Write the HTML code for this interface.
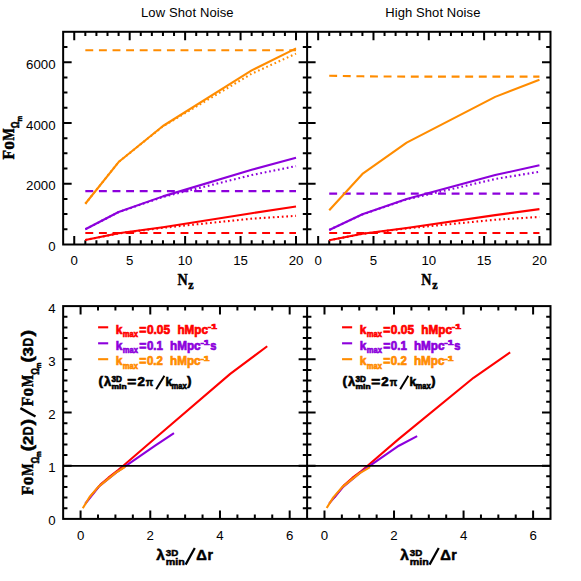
<!DOCTYPE html>
<html><head><meta charset="utf-8"><title>FoM</title>
<style>html,body{margin:0;padding:0;background:#fff;}svg{display:block;}</style>
</head><body>
<svg width="581" height="581" viewBox="0 0 581 581">
<rect width="581" height="581" fill="#fff"/>
<g stroke="#000" stroke-width="2" fill="none" stroke-linecap="butt">
<path d="M74.24 244.5 v-8.5 M74.24 31.8 v8.5"/>
<path d="M85.33 244.5 v-4.3 M85.33 31.8 v4.3"/>
<path d="M96.42 244.5 v-4.3 M96.42 31.8 v4.3"/>
<path d="M107.50 244.5 v-4.3 M107.50 31.8 v4.3"/>
<path d="M118.59 244.5 v-4.3 M118.59 31.8 v4.3"/>
<path d="M129.68 244.5 v-8.5 M129.68 31.8 v8.5"/>
<path d="M140.77 244.5 v-4.3 M140.77 31.8 v4.3"/>
<path d="M151.86 244.5 v-4.3 M151.86 31.8 v4.3"/>
<path d="M162.95 244.5 v-4.3 M162.95 31.8 v4.3"/>
<path d="M174.04 244.5 v-4.3 M174.04 31.8 v4.3"/>
<path d="M185.12 244.5 v-8.5 M185.12 31.8 v8.5"/>
<path d="M196.21 244.5 v-4.3 M196.21 31.8 v4.3"/>
<path d="M207.30 244.5 v-4.3 M207.30 31.8 v4.3"/>
<path d="M218.39 244.5 v-4.3 M218.39 31.8 v4.3"/>
<path d="M229.48 244.5 v-4.3 M229.48 31.8 v4.3"/>
<path d="M240.57 244.5 v-8.5 M240.57 31.8 v8.5"/>
<path d="M251.66 244.5 v-4.3 M251.66 31.8 v4.3"/>
<path d="M262.75 244.5 v-4.3 M262.75 31.8 v4.3"/>
<path d="M273.83 244.5 v-4.3 M273.83 31.8 v4.3"/>
<path d="M284.92 244.5 v-4.3 M284.92 31.8 v4.3"/>
<path d="M296.01 244.5 v-8.5 M296.01 31.8 v8.5"/>
<path d="M63.15 229.31 h4.3 M307.1 229.31 h-4.3"/>
<path d="M63.15 214.11 h4.3 M307.1 214.11 h-4.3"/>
<path d="M63.15 198.92 h4.3 M307.1 198.92 h-4.3"/>
<path d="M63.15 183.73 h8.5 M307.1 183.73 h-8.5"/>
<path d="M63.15 168.54 h4.3 M307.1 168.54 h-4.3"/>
<path d="M63.15 153.34 h4.3 M307.1 153.34 h-4.3"/>
<path d="M63.15 138.15 h4.3 M307.1 138.15 h-4.3"/>
<path d="M63.15 122.96 h8.5 M307.1 122.96 h-8.5"/>
<path d="M63.15 107.76 h4.3 M307.1 107.76 h-4.3"/>
<path d="M63.15 92.57 h4.3 M307.1 92.57 h-4.3"/>
<path d="M63.15 77.38 h4.3 M307.1 77.38 h-4.3"/>
<path d="M63.15 62.19 h8.5 M307.1 62.19 h-8.5"/>
<path d="M63.15 46.99 h4.3 M307.1 46.99 h-4.3"/>
<path d="M318.16 244.5 v-8.5 M318.16 31.8 v8.5"/>
<path d="M329.23 244.5 v-4.3 M329.23 31.8 v4.3"/>
<path d="M340.29 244.5 v-4.3 M340.29 31.8 v4.3"/>
<path d="M351.35 244.5 v-4.3 M351.35 31.8 v4.3"/>
<path d="M362.42 244.5 v-4.3 M362.42 31.8 v4.3"/>
<path d="M373.48 244.5 v-8.5 M373.48 31.8 v8.5"/>
<path d="M384.55 244.5 v-4.3 M384.55 31.8 v4.3"/>
<path d="M395.61 244.5 v-4.3 M395.61 31.8 v4.3"/>
<path d="M406.67 244.5 v-4.3 M406.67 31.8 v4.3"/>
<path d="M417.74 244.5 v-4.3 M417.74 31.8 v4.3"/>
<path d="M428.80 244.5 v-8.5 M428.80 31.8 v8.5"/>
<path d="M439.86 244.5 v-4.3 M439.86 31.8 v4.3"/>
<path d="M450.93 244.5 v-4.3 M450.93 31.8 v4.3"/>
<path d="M461.99 244.5 v-4.3 M461.99 31.8 v4.3"/>
<path d="M473.05 244.5 v-4.3 M473.05 31.8 v4.3"/>
<path d="M484.12 244.5 v-8.5 M484.12 31.8 v8.5"/>
<path d="M495.18 244.5 v-4.3 M495.18 31.8 v4.3"/>
<path d="M506.25 244.5 v-4.3 M506.25 31.8 v4.3"/>
<path d="M517.31 244.5 v-4.3 M517.31 31.8 v4.3"/>
<path d="M528.37 244.5 v-4.3 M528.37 31.8 v4.3"/>
<path d="M539.44 244.5 v-8.5 M539.44 31.8 v8.5"/>
<path d="M307.1 229.31 h4.3 M550.5 229.31 h-4.3"/>
<path d="M307.1 214.11 h4.3 M550.5 214.11 h-4.3"/>
<path d="M307.1 198.92 h4.3 M550.5 198.92 h-4.3"/>
<path d="M307.1 183.73 h8.5 M550.5 183.73 h-8.5"/>
<path d="M307.1 168.54 h4.3 M550.5 168.54 h-4.3"/>
<path d="M307.1 153.34 h4.3 M550.5 153.34 h-4.3"/>
<path d="M307.1 138.15 h4.3 M550.5 138.15 h-4.3"/>
<path d="M307.1 122.96 h8.5 M550.5 122.96 h-8.5"/>
<path d="M307.1 107.76 h4.3 M550.5 107.76 h-4.3"/>
<path d="M307.1 92.57 h4.3 M550.5 92.57 h-4.3"/>
<path d="M307.1 77.38 h4.3 M550.5 77.38 h-4.3"/>
<path d="M307.1 62.19 h8.5 M550.5 62.19 h-8.5"/>
<path d="M307.1 46.99 h4.3 M550.5 46.99 h-4.3"/>
<path d="M80.58 518.9 v-8.5 M80.58 306.1 v8.5"/>
<path d="M98.00 518.9 v-4.3 M98.00 306.1 v4.3"/>
<path d="M115.42 518.9 v-4.3 M115.42 306.1 v4.3"/>
<path d="M132.85 518.9 v-4.3 M132.85 306.1 v4.3"/>
<path d="M150.28 518.9 v-8.5 M150.28 306.1 v8.5"/>
<path d="M167.70 518.9 v-4.3 M167.70 306.1 v4.3"/>
<path d="M185.12 518.9 v-4.3 M185.12 306.1 v4.3"/>
<path d="M202.55 518.9 v-4.3 M202.55 306.1 v4.3"/>
<path d="M219.98 518.9 v-8.5 M219.98 306.1 v8.5"/>
<path d="M237.40 518.9 v-4.3 M237.40 306.1 v4.3"/>
<path d="M254.83 518.9 v-4.3 M254.83 306.1 v4.3"/>
<path d="M272.25 518.9 v-4.3 M272.25 306.1 v4.3"/>
<path d="M289.68 518.9 v-8.5 M289.68 306.1 v8.5"/>
<path d="M63.15 508.26 h4.3 M307.1 508.26 h-4.3"/>
<path d="M63.15 497.62 h4.3 M307.1 497.62 h-4.3"/>
<path d="M63.15 486.98 h4.3 M307.1 486.98 h-4.3"/>
<path d="M63.15 476.34 h4.3 M307.1 476.34 h-4.3"/>
<path d="M63.15 465.70 h8.5 M307.1 465.70 h-8.5"/>
<path d="M63.15 455.06 h4.3 M307.1 455.06 h-4.3"/>
<path d="M63.15 444.42 h4.3 M307.1 444.42 h-4.3"/>
<path d="M63.15 433.78 h4.3 M307.1 433.78 h-4.3"/>
<path d="M63.15 423.14 h4.3 M307.1 423.14 h-4.3"/>
<path d="M63.15 412.50 h8.5 M307.1 412.50 h-8.5"/>
<path d="M63.15 401.86 h4.3 M307.1 401.86 h-4.3"/>
<path d="M63.15 391.22 h4.3 M307.1 391.22 h-4.3"/>
<path d="M63.15 380.58 h4.3 M307.1 380.58 h-4.3"/>
<path d="M63.15 369.94 h4.3 M307.1 369.94 h-4.3"/>
<path d="M63.15 359.30 h8.5 M307.1 359.30 h-8.5"/>
<path d="M63.15 348.66 h4.3 M307.1 348.66 h-4.3"/>
<path d="M63.15 338.02 h4.3 M307.1 338.02 h-4.3"/>
<path d="M63.15 327.38 h4.3 M307.1 327.38 h-4.3"/>
<path d="M63.15 316.74 h4.3 M307.1 316.74 h-4.3"/>
<path d="M324.49 518.9 v-8.5 M324.49 306.1 v8.5"/>
<path d="M341.87 518.9 v-4.3 M341.87 306.1 v4.3"/>
<path d="M359.26 518.9 v-4.3 M359.26 306.1 v4.3"/>
<path d="M376.64 518.9 v-4.3 M376.64 306.1 v4.3"/>
<path d="M394.03 518.9 v-8.5 M394.03 306.1 v8.5"/>
<path d="M411.41 518.9 v-4.3 M411.41 306.1 v4.3"/>
<path d="M428.80 518.9 v-4.3 M428.80 306.1 v4.3"/>
<path d="M446.19 518.9 v-4.3 M446.19 306.1 v4.3"/>
<path d="M463.57 518.9 v-8.5 M463.57 306.1 v8.5"/>
<path d="M480.96 518.9 v-4.3 M480.96 306.1 v4.3"/>
<path d="M498.34 518.9 v-4.3 M498.34 306.1 v4.3"/>
<path d="M515.73 518.9 v-4.3 M515.73 306.1 v4.3"/>
<path d="M533.11 518.9 v-8.5 M533.11 306.1 v8.5"/>
<path d="M307.1 508.26 h4.3 M550.5 508.26 h-4.3"/>
<path d="M307.1 497.62 h4.3 M550.5 497.62 h-4.3"/>
<path d="M307.1 486.98 h4.3 M550.5 486.98 h-4.3"/>
<path d="M307.1 476.34 h4.3 M550.5 476.34 h-4.3"/>
<path d="M307.1 465.70 h8.5 M550.5 465.70 h-8.5"/>
<path d="M307.1 455.06 h4.3 M550.5 455.06 h-4.3"/>
<path d="M307.1 444.42 h4.3 M550.5 444.42 h-4.3"/>
<path d="M307.1 433.78 h4.3 M550.5 433.78 h-4.3"/>
<path d="M307.1 423.14 h4.3 M550.5 423.14 h-4.3"/>
<path d="M307.1 412.50 h8.5 M550.5 412.50 h-8.5"/>
<path d="M307.1 401.86 h4.3 M550.5 401.86 h-4.3"/>
<path d="M307.1 391.22 h4.3 M550.5 391.22 h-4.3"/>
<path d="M307.1 380.58 h4.3 M550.5 380.58 h-4.3"/>
<path d="M307.1 369.94 h4.3 M550.5 369.94 h-4.3"/>
<path d="M307.1 359.30 h8.5 M550.5 359.30 h-8.5"/>
<path d="M307.1 348.66 h4.3 M550.5 348.66 h-4.3"/>
<path d="M307.1 338.02 h4.3 M550.5 338.02 h-4.3"/>
<path d="M307.1 327.38 h4.3 M550.5 327.38 h-4.3"/>
<path d="M307.1 316.74 h4.3 M550.5 316.74 h-4.3"/>
<rect x="63.15" y="31.8" width="487.35" height="212.70"/>
<path d="M307.1 31.8 V244.5"/>
<rect x="63.15" y="306.1" width="487.35" height="212.80"/>
<path d="M307.1 306.1 V518.9"/>
</g>
<g fill="none" stroke-width="2.1" stroke-linejoin="round">
<polyline points="85.33,240.00 118.59,233.29 162.95,227.21 251.66,213.20 296.01,206.43" stroke="#ff0000"/>
<polyline points="85.33,240.00 118.59,233.41 162.95,227.79 251.66,218.67 296.01,215.85" stroke="#ff0000" stroke-dasharray="1.7 2.8"/>
<polyline points="85.33,233.07 118.59,233.07 162.95,233.07 251.66,233.07 296.01,233.07" stroke="#ff0000" stroke-dasharray="7.9 5.7"/>
<polyline points="85.33,229.28 118.59,211.99 162.95,196.37 251.66,169.75 296.01,157.81" stroke="#8c00dc"/>
<polyline points="85.33,229.28 118.59,212.14 162.95,196.95 251.66,175.07 296.01,166.10" stroke="#8c00dc" stroke-dasharray="1.7 2.8"/>
<polyline points="85.33,191.14 118.59,191.14 162.95,191.14 251.66,191.14 296.01,191.14" stroke="#8c00dc" stroke-dasharray="7.9 5.7"/>
<polyline points="85.33,203.75 118.59,162.03 162.95,126.00 251.66,70.42 296.01,48.42" stroke="#ff8c00"/>
<polyline points="85.33,203.75 118.59,162.03 162.95,126.30 251.66,73.73 296.01,53.62" stroke="#ff8c00" stroke-dasharray="1.7 2.8"/>
<polyline points="85.33,50.21 118.59,50.21 162.95,50.21 251.66,50.21 296.01,50.21" stroke="#ff8c00" stroke-dasharray="7.9 5.7"/>
<polyline points="329.23,240.25 362.42,233.74 406.67,227.94 495.18,215.15 539.44,209.10" stroke="#ff0000"/>
<polyline points="329.23,240.25 362.42,233.87 406.67,228.40 495.18,219.74 539.44,216.94" stroke="#ff0000" stroke-dasharray="1.7 2.8"/>
<polyline points="329.23,233.07 362.42,233.07 406.67,233.07 495.18,233.07 539.44,233.07" stroke="#ff0000" stroke-dasharray="7.9 5.7"/>
<polyline points="329.23,229.95 362.42,214.27 406.67,199.01 495.18,175.07 539.44,165.19" stroke="#8c00dc"/>
<polyline points="329.23,229.95 362.42,214.42 406.67,199.38 495.18,179.02 539.44,171.70" stroke="#8c00dc" stroke-dasharray="1.7 2.8"/>
<polyline points="329.23,193.63 362.42,193.63 406.67,193.63 495.18,193.63 539.44,193.63" stroke="#8c00dc" stroke-dasharray="7.9 5.7"/>
<polyline points="329.23,210.22 362.42,173.94 406.67,142.59 495.18,96.86 539.44,79.84" stroke="#ff8c00"/>
<polyline points="329.23,75.74 362.42,76.32 406.67,76.62 495.18,76.62 539.44,76.62" stroke="#ff8c00" stroke-dasharray="7.9 5.7"/>
</g>
<g fill="none" stroke-width="2.1" stroke-linejoin="round">
<polyline points="89.91,497.09 100.44,484.59 108.46,477.67 117.86,470.22 123.55,465.43 155.15,438.30 230.22,373.88 267.23,346.27" stroke="#ff0000"/>
<polyline points="85.24,503.74 99.25,486.18 117.86,471.29 155.15,445.59 173.97,433.04" stroke="#8c00dc"/>
<polyline points="82.79,508.26 89.43,497.25 98.28,486.82 115.98,472.62 125.18,466.76" stroke="#ff8c00"/>
<polyline points="333.80,498.15 344.31,484.96 352.30,477.94 361.69,470.75 367.60,465.70 398.90,438.83 473.55,377.81 510.17,352.33" stroke="#ff0000"/>
<polyline points="329.15,503.68 343.12,486.82 361.69,471.45 398.90,445.70 417.15,436.07" stroke="#8c00dc"/>
<polyline points="326.69,507.99 333.32,497.35 342.15,487.14 359.81,473.15 370.04,467.19" stroke="#ff8c00"/>
</g>
<path d="M63.15 465.9 H550.5" stroke="#000" stroke-width="1.9" fill="none"/>
<g font-family="'Liberation Sans', sans-serif" font-size="13.6" fill="#000">
<text x="70.55" y="265.10" textLength="7.37" lengthAdjust="spacingAndGlyphs">0</text>
<text x="125.99" y="265.10" textLength="7.37" lengthAdjust="spacingAndGlyphs">5</text>
<text x="177.75" y="265.10" textLength="14.75" lengthAdjust="spacingAndGlyphs">10</text>
<text x="233.19" y="265.10" textLength="14.75" lengthAdjust="spacingAndGlyphs">15</text>
<text x="288.64" y="265.10" textLength="14.75" lengthAdjust="spacingAndGlyphs">20</text>
<text x="76.89" y="539.50" textLength="7.37" lengthAdjust="spacingAndGlyphs">0</text>
<text x="146.59" y="539.50" textLength="7.37" lengthAdjust="spacingAndGlyphs">2</text>
<text x="216.29" y="539.50" textLength="7.37" lengthAdjust="spacingAndGlyphs">4</text>
<text x="285.99" y="539.50" textLength="7.37" lengthAdjust="spacingAndGlyphs">6</text>
<text x="314.48" y="265.10" textLength="7.37" lengthAdjust="spacingAndGlyphs">0</text>
<text x="369.79" y="265.10" textLength="7.37" lengthAdjust="spacingAndGlyphs">5</text>
<text x="421.43" y="265.10" textLength="14.75" lengthAdjust="spacingAndGlyphs">10</text>
<text x="476.74" y="265.10" textLength="14.75" lengthAdjust="spacingAndGlyphs">15</text>
<text x="532.06" y="265.10" textLength="14.75" lengthAdjust="spacingAndGlyphs">20</text>
<text x="320.80" y="539.50" textLength="7.37" lengthAdjust="spacingAndGlyphs">0</text>
<text x="390.34" y="539.50" textLength="7.37" lengthAdjust="spacingAndGlyphs">2</text>
<text x="459.88" y="539.50" textLength="7.37" lengthAdjust="spacingAndGlyphs">4</text>
<text x="529.43" y="539.50" textLength="7.37" lengthAdjust="spacingAndGlyphs">6</text>
<text x="48.23" y="251.10" textLength="7.37" lengthAdjust="spacingAndGlyphs">0</text>
<text x="26.10" y="190.33" textLength="29.50" lengthAdjust="spacingAndGlyphs">2000</text>
<text x="26.10" y="129.56" textLength="29.50" lengthAdjust="spacingAndGlyphs">4000</text>
<text x="26.10" y="68.79" textLength="29.50" lengthAdjust="spacingAndGlyphs">6000</text>
<text x="48.23" y="525.30" textLength="7.37" lengthAdjust="spacingAndGlyphs">0</text>
<text x="48.23" y="472.10" textLength="7.37" lengthAdjust="spacingAndGlyphs">1</text>
<text x="48.23" y="418.90" textLength="7.37" lengthAdjust="spacingAndGlyphs">2</text>
<text x="48.23" y="365.70" textLength="7.37" lengthAdjust="spacingAndGlyphs">3</text>
<text x="48.23" y="312.50" textLength="7.37" lengthAdjust="spacingAndGlyphs">4</text>
</g>
<g font-family="'Liberation Sans', sans-serif" font-size="13" fill="#000">
<text x="141" y="16.5" textLength="92.6">Low Shot Noise</text>
<text x="385.2" y="16.5" textLength="95.2">High Shot Noise</text>
</g>
<text x="177.40" y="284.6" font-family="'Liberation Serif', serif" font-weight="bold" stroke="#000" stroke-width="0.5" font-size="17.5" textLength="10.2" lengthAdjust="spacingAndGlyphs">N</text>
<text x="188.20" y="289" font-family="'Liberation Serif', serif" font-weight="bold" stroke="#000" stroke-width="0.5" font-size="12">z</text>
<text x="421.35" y="284.6" font-family="'Liberation Serif', serif" font-weight="bold" stroke="#000" stroke-width="0.5" font-size="17.5" textLength="10.2" lengthAdjust="spacingAndGlyphs">N</text>
<text x="432.15" y="289" font-family="'Liberation Serif', serif" font-weight="bold" stroke="#000" stroke-width="0.5" font-size="12">z</text>
<g transform="translate(13.6,159.4) rotate(-90)"><text x="-0.2" y="0" font-family="'Liberation Serif', serif" font-weight="bold" stroke="#000" stroke-width="0.5" font-size="16.5" textLength="9.4" lengthAdjust="spacingAndGlyphs">F</text><text x="9.6" y="0" font-family="'Liberation Serif', serif" font-weight="bold" stroke="#000" stroke-width="0.5" font-size="19.5" textLength="8.8" lengthAdjust="spacingAndGlyphs">o</text><text x="19.0" y="0" font-family="'Liberation Serif', serif" font-weight="bold" stroke="#000" stroke-width="0.5" font-size="16.5" textLength="12.2" lengthAdjust="spacingAndGlyphs">M</text><text x="31.2" y="5.6" font-family="'Liberation Sans', sans-serif" font-weight="bold" stroke="#000" stroke-width="0.5" font-size="11" textLength="6.8" lengthAdjust="spacingAndGlyphs">Ω</text><text x="37.8" y="8.2" font-family="'Liberation Sans', sans-serif" font-weight="bold" stroke="#000" stroke-width="0.5" font-size="7" textLength="5.6" lengthAdjust="spacingAndGlyphs">m</text></g>
<g transform="translate(33.1,494.8) rotate(-90)"><text x="-0.2" y="0" font-family="'Liberation Serif', serif" font-weight="bold" stroke="#000" stroke-width="0.5" font-size="16.5" textLength="9.4" lengthAdjust="spacingAndGlyphs">F</text><text x="9.6" y="0" font-family="'Liberation Serif', serif" font-weight="bold" stroke="#000" stroke-width="0.5" font-size="19.5" textLength="8.8" lengthAdjust="spacingAndGlyphs">o</text><text x="19.0" y="0" font-family="'Liberation Serif', serif" font-weight="bold" stroke="#000" stroke-width="0.5" font-size="16.5" textLength="12.2" lengthAdjust="spacingAndGlyphs">M</text><text x="31.2" y="5.6" font-family="'Liberation Sans', sans-serif" font-weight="bold" stroke="#000" stroke-width="0.5" font-size="11" textLength="6.8" lengthAdjust="spacingAndGlyphs">Ω</text><text x="37.8" y="8.2" font-family="'Liberation Sans', sans-serif" font-weight="bold" stroke="#000" stroke-width="0.5" font-size="7" textLength="5.6" lengthAdjust="spacingAndGlyphs">m</text><text x="43.2" y="-0.4" font-family="'Liberation Sans', sans-serif" font-weight="bold" stroke="#000" stroke-width="0.5" font-size="16.5" textLength="6.6" lengthAdjust="spacingAndGlyphs">(</text><text x="49.800000000000004" y="0" font-family="'Liberation Sans', sans-serif" font-weight="bold" stroke="#000" stroke-width="0.5" font-size="14.5" textLength="9.2" lengthAdjust="spacingAndGlyphs">2</text><text x="59.6" y="0" font-family="'Liberation Sans', sans-serif" font-weight="bold" stroke="#000" stroke-width="0.5" font-size="14.5" textLength="8.9" lengthAdjust="spacingAndGlyphs">D</text><text x="69.4" y="-0.4" font-family="'Liberation Sans', sans-serif" font-weight="bold" stroke="#000" stroke-width="0.5" font-size="16.5" textLength="6.6" lengthAdjust="spacingAndGlyphs">)</text><path d="M78.3 2.4 L86.7 -12.7" stroke="#000" stroke-width="2.4" fill="none"/><text x="88.6" y="0" font-family="'Liberation Serif', serif" font-weight="bold" stroke="#000" stroke-width="0.5" font-size="16.5" textLength="9.4" lengthAdjust="spacingAndGlyphs">F</text><text x="98.39999999999999" y="0" font-family="'Liberation Serif', serif" font-weight="bold" stroke="#000" stroke-width="0.5" font-size="19.5" textLength="8.8" lengthAdjust="spacingAndGlyphs">o</text><text x="107.8" y="0" font-family="'Liberation Serif', serif" font-weight="bold" stroke="#000" stroke-width="0.5" font-size="16.5" textLength="12.2" lengthAdjust="spacingAndGlyphs">M</text><text x="120.0" y="5.6" font-family="'Liberation Sans', sans-serif" font-weight="bold" stroke="#000" stroke-width="0.5" font-size="11" textLength="6.8" lengthAdjust="spacingAndGlyphs">Ω</text><text x="126.6" y="8.2" font-family="'Liberation Sans', sans-serif" font-weight="bold" stroke="#000" stroke-width="0.5" font-size="7" textLength="5.6" lengthAdjust="spacingAndGlyphs">m</text><text x="132.0" y="-0.4" font-family="'Liberation Sans', sans-serif" font-weight="bold" stroke="#000" stroke-width="0.5" font-size="16.5" textLength="6.6" lengthAdjust="spacingAndGlyphs">(</text><text x="138.6" y="0" font-family="'Liberation Sans', sans-serif" font-weight="bold" stroke="#000" stroke-width="0.5" font-size="14.5" textLength="9.2" lengthAdjust="spacingAndGlyphs">3</text><text x="148.4" y="0" font-family="'Liberation Sans', sans-serif" font-weight="bold" stroke="#000" stroke-width="0.5" font-size="14.5" textLength="8.9" lengthAdjust="spacingAndGlyphs">D</text><text x="158.2" y="-0.4" font-family="'Liberation Sans', sans-serif" font-weight="bold" stroke="#000" stroke-width="0.5" font-size="16.5" textLength="6.6" lengthAdjust="spacingAndGlyphs">)</text></g>
<text x="156.20" y="560.2" font-family="'Liberation Sans', sans-serif" font-weight="bold" stroke="#000" stroke-width="0.5" font-size="15.5">λ</text><text x="165.80" y="555.6" font-family="'Liberation Sans', sans-serif" font-weight="bold" stroke="#000" stroke-width="0.5" font-size="8.8" textLength="12.4" lengthAdjust="spacingAndGlyphs">3D</text><text x="165.80" y="565.2" font-family="'Liberation Sans', sans-serif" font-weight="bold" stroke="#000" stroke-width="0.5" font-size="9.5" textLength="19" lengthAdjust="spacingAndGlyphs">min</text><path d="M185.60 564.6 L194.80 548" stroke="#000" stroke-width="2.2" fill="none"/><text x="196.20" y="560.2" font-family="'Liberation Sans', sans-serif" font-weight="bold" stroke="#000" stroke-width="0.5" font-size="14" textLength="10.6" lengthAdjust="spacingAndGlyphs">Δ</text><text x="207.40" y="560.2" font-family="'Liberation Sans', sans-serif" font-weight="bold" stroke="#000" stroke-width="0.5" font-size="14">r</text>
<text x="400.15" y="560.2" font-family="'Liberation Sans', sans-serif" font-weight="bold" stroke="#000" stroke-width="0.5" font-size="15.5">λ</text><text x="409.75" y="555.6" font-family="'Liberation Sans', sans-serif" font-weight="bold" stroke="#000" stroke-width="0.5" font-size="8.8" textLength="12.4" lengthAdjust="spacingAndGlyphs">3D</text><text x="409.75" y="565.2" font-family="'Liberation Sans', sans-serif" font-weight="bold" stroke="#000" stroke-width="0.5" font-size="9.5" textLength="19" lengthAdjust="spacingAndGlyphs">min</text><path d="M429.55 564.6 L438.75 548" stroke="#000" stroke-width="2.2" fill="none"/><text x="440.15" y="560.2" font-family="'Liberation Sans', sans-serif" font-weight="bold" stroke="#000" stroke-width="0.5" font-size="14" textLength="10.6" lengthAdjust="spacingAndGlyphs">Δ</text><text x="451.35" y="560.2" font-family="'Liberation Sans', sans-serif" font-weight="bold" stroke="#000" stroke-width="0.5" font-size="14">r</text>
<path d="M98.10 327.3 h10.1" stroke="#ff0000" stroke-width="2.1"/><g fill="#ff0000" stroke="#ff0000" stroke-width="0.7" font-family="'Liberation Sans', sans-serif" font-weight="bold"><text x="115.80" y="333.5" font-size="12.5" textLength="6.6" lengthAdjust="spacingAndGlyphs">k</text><text x="122.80" y="336.6" font-size="9" textLength="15.2" lengthAdjust="spacingAndGlyphs">max</text><text x="139.30" y="333.5" font-size="12" textLength="7.1" lengthAdjust="spacingAndGlyphs">=</text><text x="146.90" y="333.5" font-size="12" textLength="23.2" lengthAdjust="spacingAndGlyphs">0.05</text><text x="177.40" y="333.5" font-size="12" textLength="30.6" lengthAdjust="spacingAndGlyphs">hMpc</text><text x="207.80" y="329.3" font-size="7.5" textLength="9.2" lengthAdjust="spacingAndGlyphs">-1</text></g>
<path d="M98.10 343.3 h10.1" stroke="#8c00dc" stroke-width="2.1"/><g fill="#8c00dc" stroke="#8c00dc" stroke-width="0.7" font-family="'Liberation Sans', sans-serif" font-weight="bold"><text x="115.80" y="349.5" font-size="12.5" textLength="6.6" lengthAdjust="spacingAndGlyphs">k</text><text x="122.80" y="352.6" font-size="9" textLength="15.2" lengthAdjust="spacingAndGlyphs">max</text><text x="139.30" y="349.5" font-size="12" textLength="7.1" lengthAdjust="spacingAndGlyphs">=</text><text x="146.90" y="349.5" font-size="12" textLength="16.0" lengthAdjust="spacingAndGlyphs">0.1</text><text x="170.00" y="349.5" font-size="12" textLength="30.6" lengthAdjust="spacingAndGlyphs">hMpc</text><text x="200.40" y="345.3" font-size="7.5" textLength="9.2" lengthAdjust="spacingAndGlyphs">-1</text><text x="210.20" y="349.5" font-size="12" textLength="6.2" lengthAdjust="spacingAndGlyphs">s</text></g>
<path d="M98.10 359.2 h10.1" stroke="#ff8c00" stroke-width="2.1"/><g fill="#ff8c00" stroke="#ff8c00" stroke-width="0.7" font-family="'Liberation Sans', sans-serif" font-weight="bold"><text x="115.80" y="365.4" font-size="12.5" textLength="6.6" lengthAdjust="spacingAndGlyphs">k</text><text x="122.80" y="368.5" font-size="9" textLength="15.2" lengthAdjust="spacingAndGlyphs">max</text><text x="139.30" y="365.4" font-size="12" textLength="7.1" lengthAdjust="spacingAndGlyphs">=</text><text x="146.90" y="365.4" font-size="12" textLength="16.0" lengthAdjust="spacingAndGlyphs">0.2</text><text x="170.00" y="365.4" font-size="12" textLength="30.6" lengthAdjust="spacingAndGlyphs">hMpc</text><text x="200.40" y="361.2" font-size="7.5" textLength="9.2" lengthAdjust="spacingAndGlyphs">-1</text></g>
<g fill="#000" stroke="#000" stroke-width="0.65" font-family="'Liberation Sans', sans-serif" font-weight="bold"><text x="98.60" y="385.40000000000003" font-size="13.5">(</text><text x="104.00" y="385.6" font-size="13">λ</text><text x="111.60" y="381.6" font-size="8.2" textLength="10.4" lengthAdjust="spacingAndGlyphs">3D</text><text x="111.60" y="389.0" font-size="8" textLength="15" lengthAdjust="spacingAndGlyphs">min</text><text x="127.20" y="385.6" font-size="12" textLength="9" lengthAdjust="spacingAndGlyphs">=</text><text x="137.40" y="385.6" font-size="12" textLength="7.4" lengthAdjust="spacingAndGlyphs">2</text><text x="145.80" y="385.6" font-size="11.5" textLength="7.4" lengthAdjust="spacingAndGlyphs">π</text><path d="M156.20 389.20000000000005 L164.40 375.8" stroke="#000" stroke-width="2" fill="none"/><text x="165.60" y="385.6" font-size="12.5" textLength="6.6" lengthAdjust="spacingAndGlyphs">k</text><text x="171.60" y="388.70000000000005" font-size="9" textLength="15.2" lengthAdjust="spacingAndGlyphs">max</text><text x="187.00" y="385.40000000000003" font-size="13.5">)</text></g>
<path d="M342.05 327.3 h10.1" stroke="#ff0000" stroke-width="2.1"/><g fill="#ff0000" stroke="#ff0000" stroke-width="0.7" font-family="'Liberation Sans', sans-serif" font-weight="bold"><text x="359.75" y="333.5" font-size="12.5" textLength="6.6" lengthAdjust="spacingAndGlyphs">k</text><text x="366.75" y="336.6" font-size="9" textLength="15.2" lengthAdjust="spacingAndGlyphs">max</text><text x="383.25" y="333.5" font-size="12" textLength="7.1" lengthAdjust="spacingAndGlyphs">=</text><text x="390.85" y="333.5" font-size="12" textLength="23.2" lengthAdjust="spacingAndGlyphs">0.05</text><text x="421.35" y="333.5" font-size="12" textLength="30.6" lengthAdjust="spacingAndGlyphs">hMpc</text><text x="451.75" y="329.3" font-size="7.5" textLength="9.2" lengthAdjust="spacingAndGlyphs">-1</text></g>
<path d="M342.05 343.3 h10.1" stroke="#8c00dc" stroke-width="2.1"/><g fill="#8c00dc" stroke="#8c00dc" stroke-width="0.7" font-family="'Liberation Sans', sans-serif" font-weight="bold"><text x="359.75" y="349.5" font-size="12.5" textLength="6.6" lengthAdjust="spacingAndGlyphs">k</text><text x="366.75" y="352.6" font-size="9" textLength="15.2" lengthAdjust="spacingAndGlyphs">max</text><text x="383.25" y="349.5" font-size="12" textLength="7.1" lengthAdjust="spacingAndGlyphs">=</text><text x="390.85" y="349.5" font-size="12" textLength="16.0" lengthAdjust="spacingAndGlyphs">0.1</text><text x="413.95" y="349.5" font-size="12" textLength="30.6" lengthAdjust="spacingAndGlyphs">hMpc</text><text x="444.35" y="345.3" font-size="7.5" textLength="9.2" lengthAdjust="spacingAndGlyphs">-1</text><text x="454.15" y="349.5" font-size="12" textLength="6.2" lengthAdjust="spacingAndGlyphs">s</text></g>
<path d="M342.05 359.2 h10.1" stroke="#ff8c00" stroke-width="2.1"/><g fill="#ff8c00" stroke="#ff8c00" stroke-width="0.7" font-family="'Liberation Sans', sans-serif" font-weight="bold"><text x="359.75" y="365.4" font-size="12.5" textLength="6.6" lengthAdjust="spacingAndGlyphs">k</text><text x="366.75" y="368.5" font-size="9" textLength="15.2" lengthAdjust="spacingAndGlyphs">max</text><text x="383.25" y="365.4" font-size="12" textLength="7.1" lengthAdjust="spacingAndGlyphs">=</text><text x="390.85" y="365.4" font-size="12" textLength="16.0" lengthAdjust="spacingAndGlyphs">0.2</text><text x="413.95" y="365.4" font-size="12" textLength="30.6" lengthAdjust="spacingAndGlyphs">hMpc</text><text x="444.35" y="361.2" font-size="7.5" textLength="9.2" lengthAdjust="spacingAndGlyphs">-1</text></g>
<g fill="#000" stroke="#000" stroke-width="0.65" font-family="'Liberation Sans', sans-serif" font-weight="bold"><text x="342.55" y="385.40000000000003" font-size="13.5">(</text><text x="347.95" y="385.6" font-size="13">λ</text><text x="355.55" y="381.6" font-size="8.2" textLength="10.4" lengthAdjust="spacingAndGlyphs">3D</text><text x="355.55" y="389.0" font-size="8" textLength="15" lengthAdjust="spacingAndGlyphs">min</text><text x="371.15" y="385.6" font-size="12" textLength="9" lengthAdjust="spacingAndGlyphs">=</text><text x="381.35" y="385.6" font-size="12" textLength="7.4" lengthAdjust="spacingAndGlyphs">2</text><text x="389.75" y="385.6" font-size="11.5" textLength="7.4" lengthAdjust="spacingAndGlyphs">π</text><path d="M400.15 389.20000000000005 L408.35 375.8" stroke="#000" stroke-width="2" fill="none"/><text x="409.55" y="385.6" font-size="12.5" textLength="6.6" lengthAdjust="spacingAndGlyphs">k</text><text x="415.55" y="388.70000000000005" font-size="9" textLength="15.2" lengthAdjust="spacingAndGlyphs">max</text><text x="430.95" y="385.40000000000003" font-size="13.5">)</text></g>
</svg>
</body></html>
